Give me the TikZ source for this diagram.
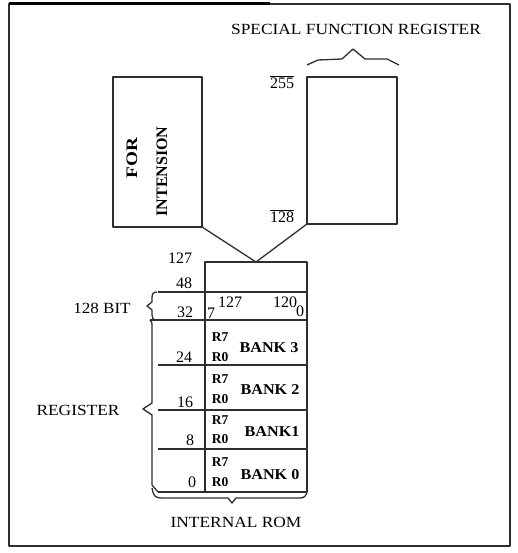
\documentclass[tikz,border=0pt]{standalone}
\usepackage{fontspec}
\setmainfont{Liberation Serif}
\begin{document}
\begin{tikzpicture}[x=1pt,y=-1pt,
  ln/.style={draw=black!82,line width=1.3pt,line join=round},
  cell/.style={ln,rectangle,inner sep=0pt,outer sep=0pt,minimum width=102pt},
  lbl/.style={inner sep=0pt,font=\fontsize{15.5}{15.5}\selectfont},
  num/.style={inner sep=0pt,font=\fontsize{16}{16}\selectfont},
  bld/.style={inner sep=0pt,font=\fontsize{15}{15}\selectfont\bfseries},
  big/.style={inner sep=0pt,font=\fontsize{16}{16}\selectfont\bfseries},
  rr/.style={inner sep=0pt,font=\fontsize{13.5}{13.5}\selectfont\bfseries}]
\useasboundingbox (0,0) rectangle (518,553);
% frame
\draw[ln] (9,4) rectangle (510,546);
\draw[line width=3pt] (9,4) -- (270,4);
% title
\node[lbl] (sfrt) at (356,29) {\scalebox{1.12}[1]{SPECIAL FUNCTION REGISTER}};
% SFR box and brace
\node[ln,rectangle,inner sep=0pt,outer sep=0pt,minimum width=90pt,minimum height=147pt] (sfr) at (352,150.5) {};
\draw[ln] (307,65) -- (318,60) -- (342,59) -- (353,49) -- (365,59) -- (387,59) -- (399,65);
\node[num] (n255) at (282,82) {$\overline{\hbox{255}}$};
\node[num] (n128t) at (282,216) {$\overline{\hbox{128}}$};
% FOR INTENSION box
\node[ln,rectangle,inner sep=0pt,outer sep=0pt,minimum width=89pt,minimum height=150pt] (forb) at (157.5,152) {};
\node[big,rotate=90] (fort) at (132,158) {\scalebox{1.2}[1]{FOR}};
\node[big,rotate=90] (intt) at (162,171.5) {INTENSION};
% stack
\node[cell,minimum height=30pt,anchor=north] (r0) at (256,262) {};
\node[cell,minimum height=28pt,anchor=north] (r1) at (r0.south) {};
\node[cell,minimum height=45pt,anchor=north] (b3) at (r1.south) {};
\node[cell,minimum height=45pt,anchor=north] (b2) at (b3.south) {};
\node[cell,minimum height=39pt,anchor=north] (b1) at (b2.south) {};
\node[cell,minimum height=43pt,anchor=north] (b0) at (b1.south) {};
% V connector
\draw[ln] (forb.south east) -- (r0.north) -- (sfr.south west);
% extension lines
\draw[ln] (r0.south west) -- ++(-47,0);
\draw[ln] (r1.south west) -- ++(-55,0);
\draw[ln] (b3.south west) -- ++(-47,0);
\draw[ln] (b2.south west) -- ++(-47,0);
\draw[ln] (b1.south west) -- ++(-47,0);
\draw[ln] (b0.south west) -- ++(-47,0) coordinate (bl);
% braces
\draw[ln] (157,292) .. controls (153,292) and (152,294) .. (152,298) -- (152,302) -- (147,306) -- (152,310) -- (152,315) .. controls (152,318) and (153,320) .. (157,320);
\draw[ln] (150,320) .. controls (152,321) and (152,323) .. (152,327) -- (152,403) -- (143,409) -- (152,415) -- (152,485) -- (bl);
\draw[ln] (152,488) .. controls (153,495) and (155,498) .. (161,498) -- (228,498) -- (232,503) -- (236,498) -- (300,498) .. controls (304,498) and (306,496) .. (307,493);
% left labels
\node[num] (l127) at (180,258) {127};
\node[num] (l48) at (184,283) {48};
\node[num] (l32) at (185,312) {32};
\node[num] (l24) at (184,357) {24};
\node[num] (l16) at (185,402) {16};
\node[num] (l8) at (190,440) {8};
\node[num] (l0) at (192,482) {0};
\node[lbl] (bit) at (102,308) {\scalebox{1.1}[1]{128 BIT}};
\node[lbl] (reg) at (78,410) {\scalebox{1.12}[1]{REGISTER}};
\node[lbl] (rom) at (236,522) {\scalebox{1.12}[1]{INTERNAL ROM}};
% 128-bit row contents
\node[num] (s7) at (211,313) {7};
\node[num] (s127) at (230,302) {127};
\node[num] (s120) at (285,302) {120};
\node[num] (s0) at (300,311) {0};
% banks
\foreach \b/\t/\x/\ya/\yb/\yc in {b3/BANK 3/269/337/357/348,b2/BANK 2/270/379/399/390,b1/BANK1/272/420/439/432,b0/BANK 0/270/462/482/475}{
  \node[rr] (\b r7) at (220,\ya) {R7};
  \node[rr] (\b r0) at (220,\yb) {R0};
  \node[bld] (\b t) at (\x,\yc) {\scalebox{1.08}[1]{\t}};
}
\end{tikzpicture}
\end{document}
